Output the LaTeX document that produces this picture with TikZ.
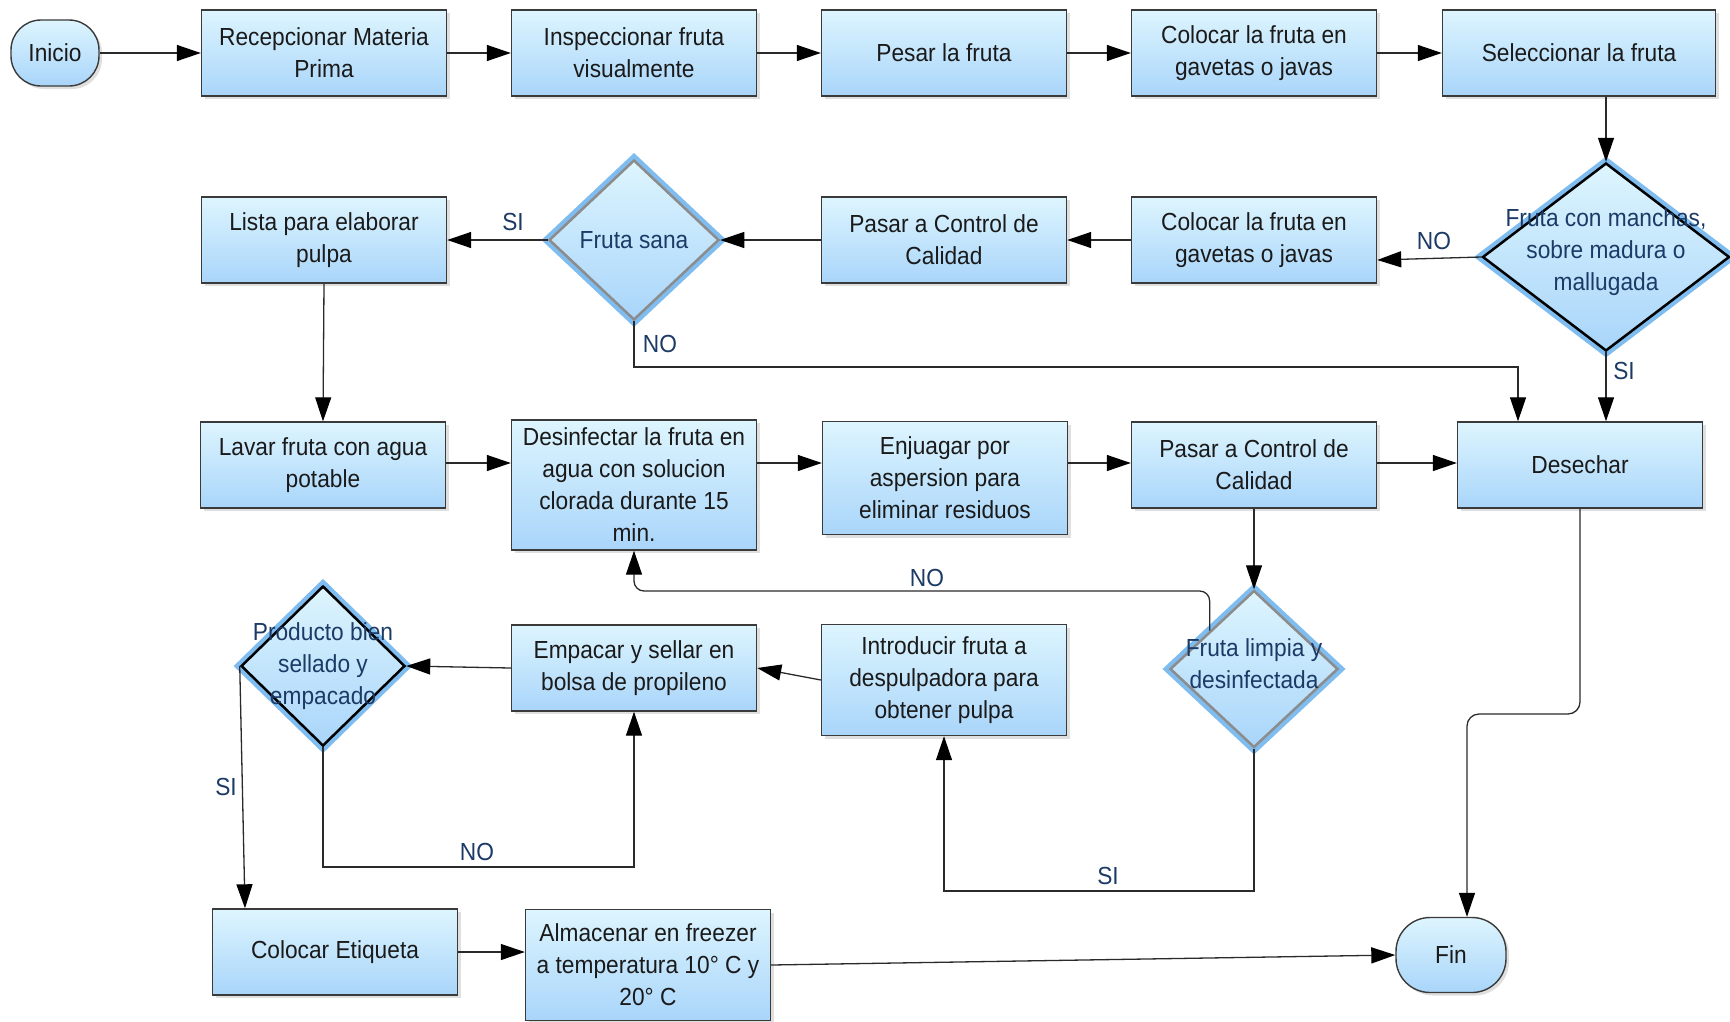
\documentclass[tikz,border=0pt]{standalone}
\usepackage{fontspec}
\setmainfont{Liberation Sans}[FakeStretch=0.92]
\usetikzlibrary{shapes.geometric,arrows.meta,shadows,calc}
\definecolor{topc}{HTML}{DDF5FE}
\definecolor{botc}{HTML}{A9D5FA}
\definecolor{boxline}{HTML}{3A3A3A}
\definecolor{glow}{HTML}{7FBDF0}
\definecolor{navy}{HTML}{1B3A66}
\definecolor{graydia}{HTML}{8C8C8C}
\definecolor{txt}{HTML}{1A1A1A}
\definecolor{wire}{HTML}{2A2A2A}
\newcommand{\bxfont}{\fontsize{24.7}{32}\selectfont}
\begin{document}
\begin{tikzpicture}[x=1pt,y=-1pt,
  box/.style={draw=boxline, line width=1.4pt, top color=topc, bottom color=botc,
    minimum width=245pt, minimum height=86pt, align=center, font=\bxfont, text=txt,
    inner sep=2pt, drop shadow={shadow xshift=3pt, shadow yshift=-3pt, opacity=0.25}},
  term/.style={box, rounded corners=30pt},
  dia/.style={diamond, draw=black, line width=2.5pt, top color=topc, bottom color=botc,
    preaction={draw=glow, line width=11pt}, inner sep=0pt},
  dtxt/.style={font=\bxfont, text=navy, align=center},
  lab/.style={font=\bxfont, text=navy},
  arr/.style={-{Triangle[length=24pt,width=16pt,color=black]}, line width=1.3pt, draw=wire}
]
\useasboundingbox (0,0) rectangle (1730,1021);
% row 1
\node[term, minimum width=88pt, minimum height=66pt] (ini) at (55,53) {Inicio};
\node[box] (rec) at (324,53) {Recepcionar Materia\\Prima};
\node[box] (ins) at (634,53) {Inspeccionar fruta\\visualmente};
\node[box] (pes) at (944,53) {Pesar la fruta};
\node[box] (col1) at (1254,53) {Colocar la fruta en\\gavetas o javas};
\node[box, minimum width=273pt] (sel) at (1579,53) {Seleccionar la fruta};
% row 2
\node[box] (lis) at (324,240) {Lista para elaborar\\pulpa};
\node[dia, draw=graydia, minimum width=170pt, minimum height=160pt] (fs) at (634,240) {};
\node[dtxt] (fst) at (fs) {Fruta sana};
\node[box] (pas1) at (944,240) {Pasar a Control de\\Calidad};
\node[box] (col2) at (1254,240) {Colocar la fruta en\\gavetas o javas};
\node[dia, minimum width=247pt, minimum height=188pt] (man) at (1606,257) {};
\node[dtxt] (mant) at (1606,252) {Fruta con manchas,\\sobre madura o\\mallugada};
% row 3
\node[box] (lav) at (323,465) {Lavar fruta con agua\\potable};
\node[box, minimum height=130pt] (dsf) at (634,485) {Desinfectar la fruta en\\agua con solucion\\clorada durante 15\\min.};
\node[box, minimum height=113pt] (enj) at (945,478) {Enjuagar por\\aspersion para\\eliminar residuos};
\node[box] (pas2) at (1254,465) {Pasar a Control de\\Calidad};
\node[box] (des) at (1580,465) {Desechar};
% row 4
\node[dia, minimum width=164pt, minimum height=160pt] (pro) at (323,666) {};
\node[dtxt] (prot) at (pro) {Producto bien\\sellado y\\empacado};
\node[box] (emp) at (634,668) {Empacar y sellar en\\bolsa de propileno};
\node[box, minimum height=111pt] (int) at (944,680) {Introducir fruta a\\despulpadora para\\obtener pulpa};
\node[dia, draw=graydia, minimum width=168pt, minimum height=157pt] (fl) at (1254,669) {};
\node[dtxt] (flt) at (1254,664) {Fruta limpia y\\desinfectada};
% row 5
\node[box] (etq) at (335,952) {Colocar Etiqueta};
\node[box, minimum height=111pt] (alm) at (648,965) {Almacenar en freezer\\a temperatura 10° C y\\20° C};
\node[term, minimum width=110pt, minimum height=75pt, rounded corners=34pt] (fin) at (1451,955) {Fin};
% connectors row 1
\draw[arr] (ini.east) -- (rec.west);
\draw[arr] (rec.east) -- (ins.west);
\draw[arr] (ins.east) -- (pes.west);
\draw[arr] (pes.east) -- (col1.west);
\draw[arr] (col1.east) -- (sel.west);
\draw[arr] (sel.south -| man.north) -- (man.north);
% row 2
\draw[arr] (man.west) -- ([yshift=-20pt]col2.east);
\node[lab] (l1) at (1434,241) {NO};
\draw[arr] (col2.west) -- (pas1.east);
\draw[arr] (pas1.west) -- (fs.east);
\draw[arr] (fs.west) -- (lis.east);
\node[lab] (l2) at (513,222) {SI};
\draw[arr] (lis.south) -- (lav.north);
\coordinate (j1) at (1518,367);
\draw[arr] (fs.south) |- (j1) -- (j1 |- des.north);
\node[lab] (l3) at (660,344) {NO};
\draw[arr] (man.south) -- (man.south |- des.north);
\node[lab] (l4) at (1624,371) {SI};
% row 3
\coordinate (r3) at (0,463);
\draw[arr] (lav.east |- r3) -- (dsf.west |- r3);
\draw[arr] (dsf.east |- r3) -- (enj.west |- r3);
\draw[arr] (enj.east |- r3) -- (pas2.west |- r3);
\draw[arr] (pas2.east |- r3) -- (des.west |- r3);
\draw[arr] (pas2.south) -- (fl.north);
\coordinate (j2) at (634,591);
\draw[arr, rounded corners=10pt] ($(fl.west)!0.48!(fl.north)$) |- (j2) -- (dsf.south);
\node[lab] (l5) at (927,578) {NO};
\coordinate (j3) at (944,891);
\draw[arr] (fl.south) |- (j3) -- (int.south);
\node[lab] (l6) at (1108,876) {SI};
% row 4
\draw[arr] (int.west) -- (emp.east);
\draw[arr] (emp.west) -- (pro.east);
\coordinate (j4) at (634,867);
\draw[arr] (pro.south) |- (j4) -- (emp.south);
\node[lab] (l7) at (477,852) {NO};
\draw[arr] (pro.west) -- ([xshift=-90pt]etq.north);
\node[lab] (l8) at (226,787) {SI};
\coordinate (j5) at (1467,714);
\draw[arr, rounded corners=12pt] (des.south) |- (j5) -- (j5 |- fin.north);
% row 5
\draw[arr] (etq.east) -- (etq.east -| alm.west);
\draw[arr] (alm.east) -- (fin.west);
\end{tikzpicture}
\end{document}
